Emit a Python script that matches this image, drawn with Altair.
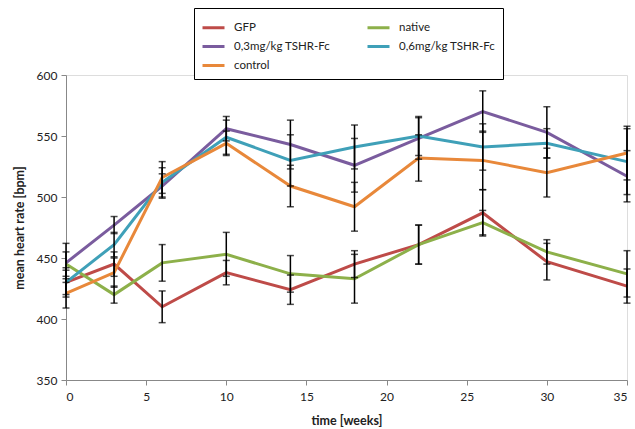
import altair as alt
import pandas as pd

weeks = [0, 3, 6, 10, 14, 18, 22, 26, 30, 35]
series_names = ["GFP", "native", "0,3mg/kg TSHR-Fc", "0,6mg/kg TSHR-Fc", "control"]
colors = ["#BE4B48", "#8DB04A", "#7A5C9E", "#3FA0B8", "#E8883A"]

gfp = [430, 445, 410, 438, 424, 445, 461, 487, 447, 427]
native = [445, 420, 446, 453, 437, 433, 461, 479, 455, 437]
tshr03 = [446, 477, 509, 556, 543, 526, 548, 570, 553, 517]
tshr06 = [430, 461, 512, 549, 530, 541, 550, 541, 544, 529]
control = [421, 438, 516, 544, 509, 492, 532, 530, 520, 536]

gfp_err = [10, 10, 13, 10, 12, 11, 16, 19, 15, 14]
native_err = [10, 7, 15, 18, 15, 20, 16, 10, 10, 19]
tshr03_err = [16, 7, 10, 10, 20, 22, 17, 17, 21, 21]
tshr06_err = [12, 10, 12, 14, 21, 18, 16, 19, 12, 27]
control_err = [12, 12, 13, 10, 17, 20, 19, 24, 20, 22]

values = [gfp, native, tshr03, tshr06, control]
errors = [gfp_err, native_err, tshr03_err, tshr06_err, control_err]

rows = []
for name, vals, errs in zip(series_names, values, errors):
    for w, v, e in zip(weeks, vals, errs):
        rows.append({"week": w, "rate": v, "lo": v - e, "hi": v + e, "group": name})
df = pd.DataFrame(rows)

# legend fills column by column: reorder so it reads row by row like the original
legend_order = [series_names[i] for i in (0, 2, 4, 1, 3)]
legend_colors = [colors[i] for i in (0, 2, 4, 1, 3)]

FONT = "Lato"

x = alt.X("week:Q", title="time [weeks]",
          scale=alt.Scale(domain=[0, 35], nice=False),
          axis=alt.Axis(values=list(range(0, 36, 5)), grid=False,
                        domainColor="#888888", tickColor="#888888", tickSize=5,
                        labelFontSize=12, labelColor="#222222", labelPadding=6,
                        titleFontSize=12.5, titleFontWeight="bold", titlePadding=12,
                        labelFont=FONT, titleFont=FONT, titleColor="#222222"))
y_scale = alt.Scale(domain=[350, 600], nice=False)
y_axis = alt.Axis(values=list(range(350, 601, 50)), grid=False,
                  domainColor="#888888", tickColor="#888888", tickSize=5,
                  labelFontSize=12, labelColor="#222222", labelPadding=4,
                  titleFontSize=12.5, titleFontWeight="bold", titlePadding=10,
                  labelFont=FONT, titleFont=FONT, titleColor="#222222")

color = alt.Color("group:N",
                  scale=alt.Scale(domain=legend_order, range=legend_colors),
                  legend=alt.Legend(title=None, orient="none", legendX=128, legendY=-67,
                                    columns=2, columnPadding=30, rowPadding=0,
                                    symbolType="stroke", symbolSize=484, symbolStrokeWidth=3,
                                    labelFontSize=11.5, labelFont=FONT, labelColor="#222222",
                                    strokeColor="#000000", padding=7, fillColor="white",
                                    labelOffset=8))

lines = alt.Chart(df).mark_line(strokeWidth=3).encode(
    x=x,
    y=alt.Y("rate:Q", title="mean heart rate  [bpm]", scale=y_scale, axis=y_axis),
    color=color,
    order=alt.Order("week:Q"),
)

bars = alt.Chart(df).mark_rule(color="black", strokeWidth=1.5).encode(
    x="week:Q", y=alt.Y("lo:Q", scale=y_scale), y2="hi:Q")
cap_lo = alt.Chart(df).mark_tick(color="black", thickness=1.5, size=7, orient="horizontal").encode(
    x="week:Q", y=alt.Y("lo:Q", scale=y_scale))
cap_hi = alt.Chart(df).mark_tick(color="black", thickness=1.5, size=7, orient="horizontal").encode(
    x="week:Q", y=alt.Y("hi:Q", scale=y_scale))

chart = alt.layer(lines, bars, cap_lo, cap_hi).properties(
    width=561, height=305,
    autosize=alt.AutoSizeParams(type="none"),
    padding={"left": 66, "top": 75, "right": 8, "bottom": 49},
).configure_view(stroke=None).configure(background="white")

chart.save("out.html", embed_options={"renderer": "svg", "actions": False})
